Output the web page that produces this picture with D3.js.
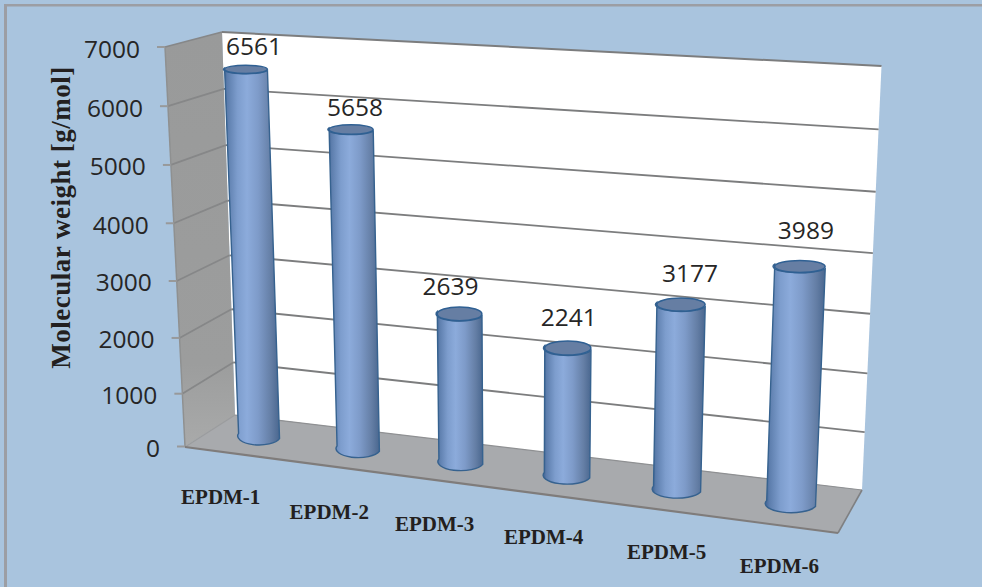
<!DOCTYPE html>
<html>
<head>
<meta charset="utf-8">
<script src="https://cdn.jsdelivr.net/npm/d3@7"></script>
<style>
  html, body { margin: 0; padding: 0; background: #a9c4de; }
  svg { display: block; }
</style>
</head>
<body>
<svg id="chart" width="982" height="587"></svg>
<script>
// Number-average molecular weight for each EPDM sample
const categories = ["EPDM-1", "EPDM-2", "EPDM-3", "EPDM-4", "EPDM-5", "EPDM-6"];
const molecularWeight = [6561, 5658, 2639, 2241, 3177, 3989];
const valueTicks = [0, 1000, 2000, 3000, 4000, 5000, 6000, 7000];
const valueAxisTitle = "Molecular weight [g/mol]";

const width = 982, height = 587;

// Corners of the drawn box, as [front/left ground, right ground, right top, left top]
const backWallQuad = [[235, 415], [862, 490], [881.5, 66], [222, 32]];
const floorQuad = [[185, 447], [838, 533], [862, 490], [235, 415]];
const sideFrontBottom = [185, 446.5], sideFrontTop = [165, 47];
// Plane through the column axes: first and last column, from value 0 to the axis maximum
const columnQuad = [[259, 436], [791, 503.5], [807, 77], [245, 43.5]];

// Maps the unit square on to a quadrilateral with a projective transform
function projective(q) {
  const [[x0, y0], [x1, y1], [x2, y2], [x3, y3]] = q;
  const dx1 = x1 - x2, dx2 = x3 - x2, sx = x0 - x1 + x2 - x3;
  const dy1 = y1 - y2, dy2 = y3 - y2, sy = y0 - y1 + y2 - y3;
  const den = dx1 * dy2 - dx2 * dy1;
  const g = (sx * dy2 - dx2 * sy) / den;
  const h = (dx1 * sy - sx * dy1) / den;
  const a = x1 - x0 + g * x1, b = x3 - x0 + h * x3;
  const d = y1 - y0 + g * y1, e = y3 - y0 + h * y3;
  return (u, v) => {
    const w = g * u + h * v + 1;
    return [(a * u + b * v + x0) / w, (d * u + e * v + y0) / w];
  };
}

const backWall = projective(backWallQuad);
const floor = projective(floorQuad);
const columnPlane = projective(columnQuad);

const yScale = d3.scaleLinear().domain([0, 7000]).range([0, 1]);
// The nearest edge of the side wall is foreshortened a little less than the back wall
const frontEdgeScale = d3.scalePow().exponent(1.04).domain([0, 7000]).range([0, 1]);
const frontEdge = t => d3.interpolateArray(sideFrontBottom, sideFrontTop)(frontEdgeScale(t));
// Band centres fall on 0 and 1 for the first and last column
const xScale = d3.scaleBand().domain(categories).range([-0.1, 1.1]).paddingInner(0.58).paddingOuter(0.29);
const floorX = d3.scaleBand().domain(categories).range([0, 1]);
// The ellipses flatten as the cap rises toward eye level
const capFlatness = d3.scaleLinear().domain([0, 7000]).range([8.6, 3.9]);

const svg = d3.select("#chart");
const defs = svg.append("defs");

const sideGrad = defs.append("linearGradient").attr("id", "columnSide");
[[0, "#3f6191"], [0.07, "#5c7dac"], [0.25, "#7d9dcd"], [0.42, "#8cabdb"], [0.62, "#7e9bc9"],
 [0.85, "#647ea5"], [1, "#4a678f"]].forEach(([o, c]) =>
  sideGrad.append("stop").attr("offset", o).attr("stop-color", c));

const wallGrad = defs.append("linearGradient").attr("id", "sideWallFill")
  .attr("x1", 0).attr("y1", 0).attr("x2", 0).attr("y2", 1);
[[0, "#999a9a"], [0.8, "#9c9d9d"], [1, "#a9aaaa"]].forEach(([o, c]) =>
  wallGrad.append("stop").attr("offset", o).attr("stop-color", c));

const polygon = d3.line();
const sideWallOutline = [frontEdge(0), backWall(0, 0), backWall(0, 1), frontEdge(7000)];

// Page background and the thin frame along its top and left
svg.append("rect").attr("width", width).attr("height", height).attr("fill", "#a9c4de");
svg.append("rect").attr("x", 4).attr("y", 4).attr("width", width - 4).attr("height", 2.5).attr("fill", "#9c9ea4");
svg.append("rect").attr("x", 4).attr("y", 4).attr("width", 3).attr("height", height - 4).attr("fill", "#9c9ea4");

// Walls and floor
svg.append("path").attr("d", polygon(backWallQuad) + "Z").attr("fill", "#ffffff");
svg.append("path").attr("d", polygon(sideWallOutline) + "Z").attr("fill", "url(#sideWallFill)");

// Gridlines run along the side wall, then across the back wall
const grid = svg.append("g").attr("fill", "none");
valueTicks.filter(t => t > 0).forEach(t => {
  const v = yScale(t);
  grid.append("path").attr("d", polygon([backWall(0, v), backWall(1, v)]))
    .attr("stroke", "#7c7d7e").attr("stroke-width", t === 7000 ? 2 : 1.8);
  grid.append("path").attr("d", polygon([frontEdge(t), backWall(0, v)]))
    .attr("stroke", "#868788").attr("stroke-width", 1.8);
});
grid.append("path").attr("d", polygon([frontEdge(0), frontEdge(7000)]))
  .attr("stroke", "#8f9090").attr("stroke-width", 1.5);

svg.append("path").attr("d", polygon(floorQuad) + "Z").attr("fill", "#a8aaad");
svg.append("path").attr("d", polygon([floorQuad[3], floorQuad[2]]))
  .attr("fill", "none").attr("stroke", "#8f9092").attr("stroke-width", 1.2);
svg.append("path").attr("d", polygon([floorQuad[1], floorQuad[2]]))
  .attr("fill", "none").attr("stroke", "#7f8082").attr("stroke-width", 1.6);
svg.append("path").attr("d", polygon([floorQuad[3], floorQuad[0]]))
  .attr("fill", "none").attr("stroke", "#9b9c9d").attr("stroke-width", 1.2);
svg.append("path").attr("d", polygon([floorQuad[0], floorQuad[1]]))
  .attr("fill", "none").attr("stroke", "#7f7c7b").attr("stroke-width", 2.2);

// Value axis: ticks and labels follow the front edge of the side wall
const axis = svg.append("g");
valueTicks.forEach(t => {
  const [px, py] = frontEdge(t);
  axis.append("line").attr("x1", px - 8).attr("x2", px).attr("y1", py).attr("y2", py)
    .attr("stroke", "#98999a").attr("stroke-width", 2);
  axis.append("text").attr("x", px - 25).attr("y", py + 1)
    .attr("text-anchor", "end").attr("dominant-baseline", "central")
    .attr("font-family", "'Open Sans'").attr("font-size", 24.5).attr("fill", "#262626")
    .text(t);
});

axis.append("text")
  .attr("transform", "translate(70,217.5) rotate(-90)")
  .attr("text-anchor", "middle")
  .attr("font-family", "'Liberation Serif'").attr("font-weight", "bold")
  .attr("font-size", 27).attr("letter-spacing", 0.5).attr("fill", "#231f20")
  .text(valueAxisTitle);

// Columns
const columns = svg.append("g");
categories.forEach((name, i) => {
  const value = molecularWeight[i];
  const uc = xScale(name) + xScale.bandwidth() / 2;
  const half = xScale.bandwidth() / 2;
  const v = yScale(value);
  const baseL = columnPlane(uc - half, 0), baseR = columnPlane(uc + half, 0);
  const topL = columnPlane(uc - half, v), topR = columnPlane(uc + half, v);
  const rxBase = (baseR[0] - baseL[0]) / 2, rxTop = (topR[0] - topL[0]) / 2;
  const ryBase = capFlatness(0), ryTop = capFlatness(value);

  columns.append("path")
    .attr("d", `M${topL}L${baseL}A${rxBase},${ryBase} 0 0 0 ${baseR}L${topR}A${rxTop},${ryTop} 0 0 1 ${topL}Z`)
    .attr("fill", "url(#columnSide)")
    .attr("stroke", "#36628f").attr("stroke-width", 1.4);

  const topC = columnPlane(uc, v);
  columns.append("ellipse")
    .attr("cx", topC[0]).attr("cy", topC[1]).attr("rx", rxTop).attr("ry", ryTop)
    .attr("fill", "#667ea3").attr("stroke", "#2f6093").attr("stroke-width", 1.5);
});

// Value labels sit above each cap, shifted the way the original placed them
const valueLabelShift = [[8, -14], [4, -14], [-9, -19], [1, -22], [9, -23], [6, -27]];
svg.append("g").selectAll("text").data(molecularWeight).join("text")
  .attr("x", (d, i) => columnPlane(xScale(categories[i]) + xScale.bandwidth() / 2, yScale(d))[0] + valueLabelShift[i][0])
  .attr("y", (d, i) => columnPlane(xScale(categories[i]) + xScale.bandwidth() / 2, yScale(d))[1] + valueLabelShift[i][1])
  .attr("text-anchor", "middle")
  .attr("font-family", "'Open Sans'").attr("font-size", 24.5).attr("fill", "#262626")
  .text(d => d);

// Category labels hang below the front edge of the floor
const categoryLabelShift = [[-10, 51], [3, 53], [7, 52], [8, 51], [16, 51], [6, 49]];
svg.append("g").selectAll("text").data(categories).join("text")
  .attr("x", (d, i) => floor(floorX(d) + floorX.bandwidth() / 2, 0)[0] + categoryLabelShift[i][0])
  .attr("y", (d, i) => floor(floorX(d) + floorX.bandwidth() / 2, 0)[1] + categoryLabelShift[i][1])
  .attr("text-anchor", "middle")
  .attr("font-family", "'Liberation Serif'").attr("font-weight", "bold")
  .attr("font-size", 21).attr("fill", "#231f20")
  .text(d => d);
</script>
</body>
</html>
